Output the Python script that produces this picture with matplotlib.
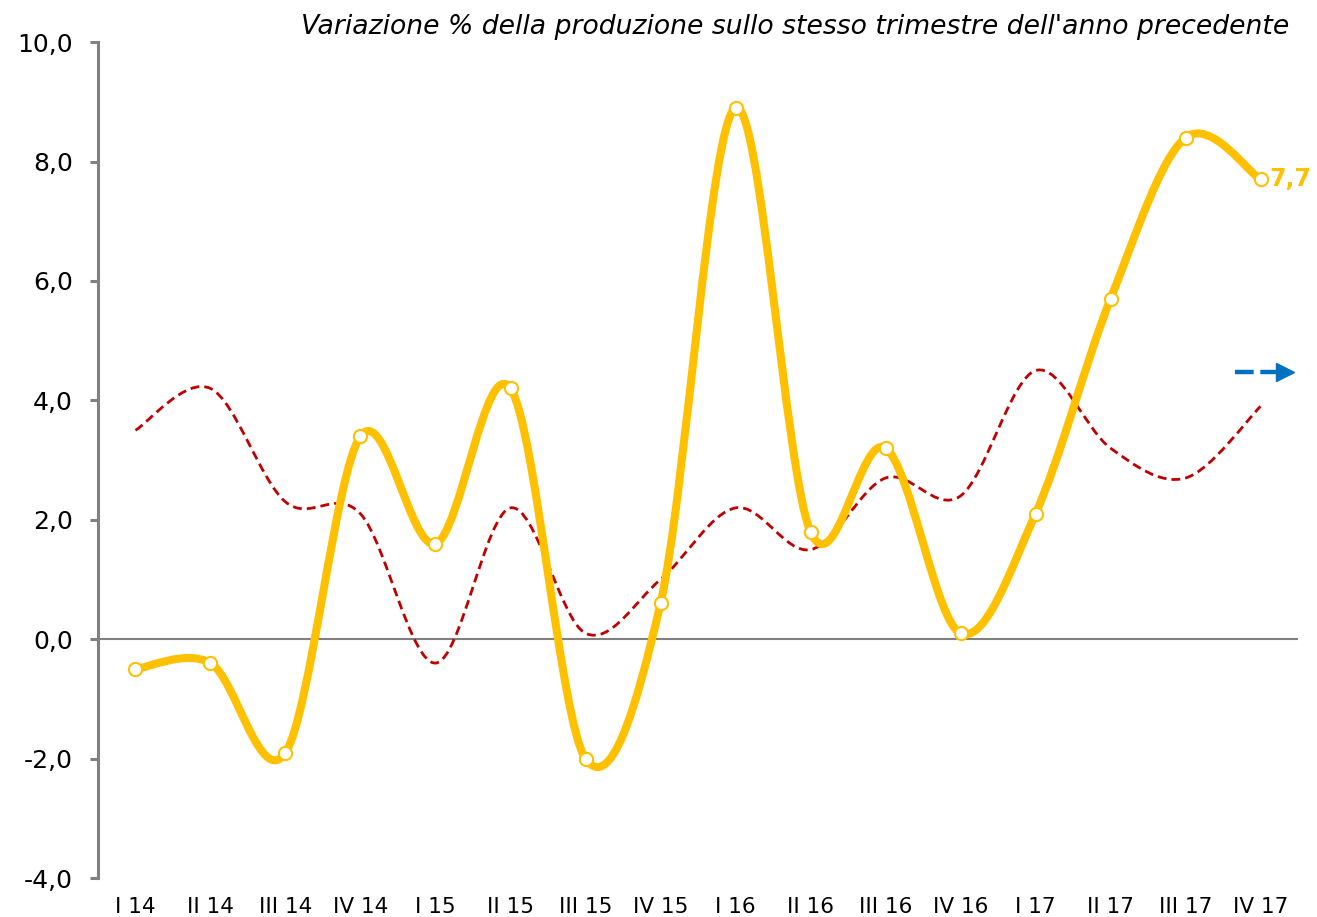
import numpy as np
import matplotlib
matplotlib.use('Agg')
import matplotlib.pyplot as plt
import matplotlib.ticker as ticker
import matplotlib.transforms as mtransforms
from matplotlib.path import Path
from matplotlib.patches import PathPatch

# Quarterly data (% change vs same quarter of previous year)
quarters = ['I 14', 'II 14', 'III 14', 'IV 14', 'I 15', 'II 15', 'III 15', 'IV 15',
            'I 16', 'II 16', 'III 16', 'IV 16', 'I 17', 'II 17', 'III 17', 'IV 17']
production = [-0.5, -0.4, -1.9, 3.4, 1.6, 4.2, -2.0, 0.6,
              8.9, 1.8, 3.2, 0.1, 2.1, 5.7, 8.4, 7.7]
reference = [3.5, 4.2, 2.3, 2.1, -0.4, 2.2, 0.1, 1.0,
             2.2, 1.5, 2.7, 2.4, 4.5, 3.2, 2.7, 3.9]
arrow_level = 4.47

YELLOW = '#FFC000'
RED = '#C00000'
BLUE = '#0070C0'
GREY = '#808080'


def smooth_path(xs, ys):
    # Excel-style smoothed line: cubic Bezier segments through the points
    pts = np.column_stack([xs, ys]).astype(float)
    n = len(pts)
    verts = [pts[0]]
    codes = [Path.MOVETO]
    for i in range(n - 1):
        p_prev = pts[max(i - 1, 0)]
        p0 = pts[i]
        p1 = pts[i + 1]
        p_next = pts[min(i + 2, n - 1)]
        c1 = p0 + (p1 - p_prev) / 6.0
        c2 = p1 - (p_next - p0) / 6.0
        verts += [c1, c2, p1]
        codes += [Path.CURVE4] * 3
    return Path(verts, codes)


x = np.arange(len(quarters))

fig = plt.figure(figsize=(13.17, 9.17), dpi=100)
ax = fig.add_axes([0.0744, 0.0425, 0.9112, 0.9115])

ax.axhline(0, color=GREY, linewidth=1.5, zorder=1)

ax.add_patch(PathPatch(smooth_path(x, reference), facecolor='none', edgecolor=RED,
                       linewidth=2.0, linestyle=(0, (3.2, 1.8)), zorder=2))
ax.add_patch(PathPatch(smooth_path(x, production), facecolor='none', edgecolor=YELLOW,
                       linewidth=5.8, capstyle='round', joinstyle='round', zorder=3))
ax.plot(x, production, linestyle='none', marker='o', markersize=9.5,
        markerfacecolor='white', markeredgecolor=YELLOW, markeredgewidth=1.5, zorder=4)

# value label of the last quarter
offset = mtransforms.ScaledTranslation(9 / 100, 0, fig.dpi_scale_trans)
ax.text(x[-1], production[-1], '7,7', color=YELLOW, fontsize=17, fontweight='bold',
        ha='left', va='center', clip_on=False, transform=ax.transData + offset)

# blue dashed arrow on the right
ax.plot([14.66, 15.24], [arrow_level, arrow_level], color=BLUE, linewidth=3.2,
        linestyle=(0, (4.2, 1.5)), solid_capstyle='butt', dash_capstyle='butt',
        clip_on=False, zorder=3)
ax.plot([15.33], [arrow_level], marker='>', markersize=13, color=BLUE,
        linestyle='none', clip_on=False, zorder=3)

ax.set_xlim(-0.5, 15.5)
ax.set_ylim(-4, 10)
ax.set_yticks(np.arange(-4, 10.1, 2))
ax.yaxis.set_major_formatter(ticker.FuncFormatter(lambda v, p: ('%.1f' % v).replace('.', ',')))
ax.set_xticks(x)
ax.set_xticklabels(quarters, fontsize=15.5,
                   family=['DejaVu Sans Condensed', 'Liberation Sans Narrow', 'DejaVu Sans'])

for s in ['top', 'right', 'bottom']:
    ax.spines[s].set_visible(False)
ax.spines['left'].set_color(GREY)
ax.spines['left'].set_linewidth(2.2)

ax.tick_params(axis='y', direction='out', length=6, width=2.2, color=GREY,
               labelsize=18, pad=12)
ax.tick_params(axis='x', length=0, pad=14)

fig.text(0.979, 0.971, "Variazione % della produzione sullo stesso trimestre dell'anno precedente",
         ha='right', va='center', fontsize=19.2, style='italic')

fig.savefig('out.png', dpi=100)
